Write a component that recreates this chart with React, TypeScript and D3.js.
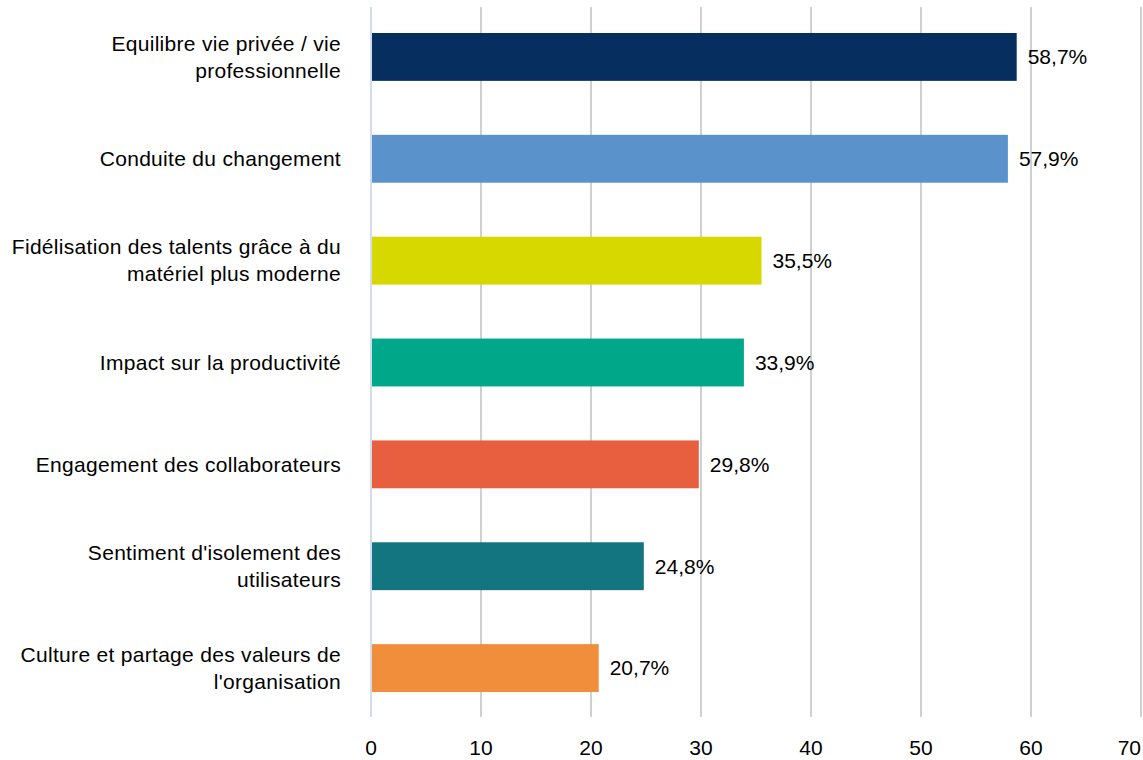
import React from "react";
import * as d3 from "d3";

const categories = [
  ["Equilibre vie privée / vie", "professionnelle"],
  ["Conduite du changement"],
  ["Fidélisation des talents grâce à du", "matériel plus moderne"],
  ["Impact sur la productivité"],
  ["Engagement des collaborateurs"],
  ["Sentiment d'isolement des", "utilisateurs"],
  ["Culture et partage des valeurs de", "l'organisation"],
];
const values = [58.7, 57.9, 35.5, 33.9, 29.8, 24.8, 20.7];
const valueLabels = ["58,7%", "57,9%", "35,5%", "33,9%", "29,8%", "24,8%", "20,7%"];
const colors = ["#062f5f", "#5a93cb", "#d6d800", "#00a88a", "#e85f40", "#127580", "#f08e3c"];
const ticks = [0, 10, 20, 30, 40, 50, 60, 70];

const W = 1143;
const H = 760;
const left = 371;
const right = 1141;
const top = 7;
const bottom = 717;
const FONT = "'Liberation Sans', Arial, sans-serif";

export default function App() {
  const x = d3.scaleLinear().domain([0, 70]).range([left, right]);
  const idx = categories.map((_, i) => String(i));
  const y = d3.scaleBand().domain(idx).range([6, 719]).paddingInner(0.53).paddingOuter(0.265);
  return (
    <svg width={W} height={H} style={{ position: "absolute", left: 0, top: 0, background: "#fff" }}>
      {ticks.slice(1).map((t) => (
        <line key={t} x1={x(t)} x2={x(t)} y1={top} y2={bottom} stroke="#d0d0d0" strokeWidth={2} />
      ))}
      {values.map((v, i) => (
        <rect key={i} x={x(0)} y={y(String(i))} width={x(v) - x(0)} height={y.bandwidth()} fill={colors[i]} />
      ))}
      <line x1={x(0)} x2={x(0)} y1={top} y2={bottom} stroke="#d3dbee" strokeWidth={2} />
      {values.map((v, i) => {
        const cy = (y(String(i)) as number) + y.bandwidth() / 2;
        return (
          <text key={i} x={x(v) + 11} y={cy} dy="0.35em" fontFamily={FONT} fontSize={21} fill="#000">
            {valueLabels[i]}
          </text>
        );
      })}
      {categories.map((lines, i) => {
        const cy = (y(String(i)) as number) + y.bandwidth() / 2;
        const lh = 27;
        const start = cy - ((lines.length - 1) * lh) / 2;
        return (
          <text key={i} x={341} textAnchor="end" fontFamily={FONT} fontSize={21} letterSpacing={0.3} fill="#000">
            {lines.map((l, j) => (
              <tspan key={j} x={341} y={start + j * lh} dy="0.35em">
                {l}
              </tspan>
            ))}
          </text>
        );
      })}
      {ticks.map((t, i) => {
        const last = i === ticks.length - 1;
        return (
          <text
            key={t}
            x={last ? W - 2 : x(t)}
            y={748}
            dy="0.35em"
            textAnchor={last ? "end" : "middle"}
            fontFamily={FONT}
            fontSize={21}
            fill="#000"
          >
            {t}
          </text>
        );
      })}
    </svg>
  );
}
